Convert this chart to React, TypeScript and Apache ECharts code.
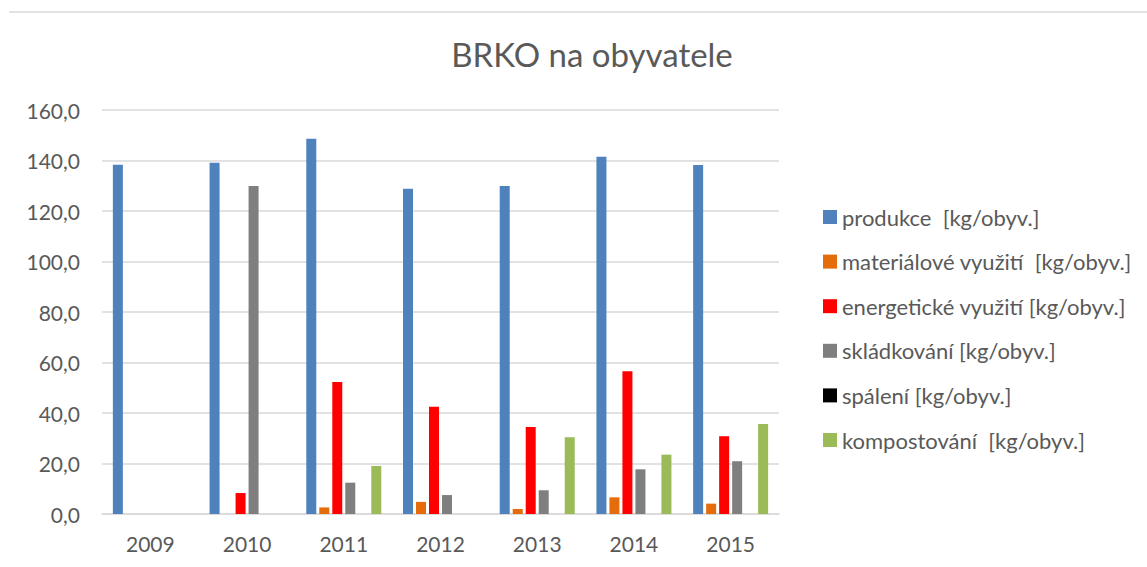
import React, { useEffect, useRef } from "react";
import * as echarts from "echarts";

const years = ["2009", "2010", "2011", "2012", "2013", "2014", "2015"];
const produkce = [138.3, 139.1, 148.6, 128.8, 129.9, 141.5, 138.2];
const materialove = [0, 0, 2.6, 4.8, 2.0, 6.6, 4.1];
const energeticke = [0, 8.3, 52.3, 42.5, 34.5, 56.5, 30.8];
const skladkovani = [0, 129.9, 12.4, 7.5, 9.4, 17.7, 20.9];
const spaleni = [0, 0, 0, 0, 0, 0, 0];
const kompostovani = [0, 0, 19.0, 0, 30.4, 23.5, 35.6];

const seriesNames = [
  "produkce  [kg/obyv.]",
  "materiálové využití  [kg/obyv.]",
  "energetické využití [kg/obyv.]",
  "skládkování [kg/obyv.]",
  "spálení [kg/obyv.]",
  "kompostování  [kg/obyv.]",
];
const seriesData = [produkce, materialove, energeticke, skladkovani, spaleni, kompostovani];
const colors = ["#4F81BD", "#E46C0A", "#FF0000", "#7F7F7F", "#000000", "#9BBB59"];

const FONT = "Lato, 'Open Sans', sans-serif";

export default function App() {
  const ref = useRef<HTMLDivElement>(null);
  useEffect(() => {
    if (!ref.current) return;
    const chart = echarts.init(ref.current, null, { renderer: "svg" });
    chart.setOption({
      animation: false,
      backgroundColor: "#ffffff",
      color: colors,
      title: {
        text: "BRKO na obyvatele",
        left: 587,
        top: 32,
        textAlign: "center",
        textStyle: { fontFamily: FONT, fontSize: 33, fontWeight: "normal", color: "#595959" },
      },
      graphic: [
        {
          type: "line",
          shape: { x1: 9, y1: 12, x2: 1147, y2: 12 },
          style: { stroke: "#d9d9d9", lineWidth: 1.5 },
        },
      ],
      legend: {
        orient: "vertical",
        left: 818,
        top: 201,
        itemWidth: 14,
        itemHeight: 14,
        itemGap: 22.6,
        icon: "rect",
        textStyle: { fontFamily: FONT, fontSize: 22, color: "#595959", lineHeight: 22 },
        data: seriesNames,
      },
      grid: { left: 102, right: 368, top: 110, bottom: 53, containLabel: false },
      xAxis: {
        type: "category",
        data: years,
        axisLine: { lineStyle: { color: "#d9d9d9", width: 1.5 } },
        axisTick: { show: false },
        axisLabel: { fontFamily: FONT, fontSize: 21, color: "#595959", margin: 19 },
      },
      yAxis: {
        type: "value",
        min: 0,
        max: 160,
        interval: 20,
        axisLine: { show: false },
        axisTick: { show: false },
        splitLine: { lineStyle: { color: "#d9d9d9", width: 1.5 } },
        axisLabel: {
          fontFamily: FONT,
          fontSize: 21,
          color: "#595959",
          margin: 22,
          formatter: (v: number) => v.toFixed(1).replace(".", ","),
        },
      },
      series: seriesNames.map((name, i) => ({
        name,
        type: "bar",
        data: seriesData[i],
        barWidth: 10,
        barGap: "30%",
        barCategoryGap: "22%",
        itemStyle: { color: colors[i] },
      })),
    });
    return () => chart.dispose();
  }, []);
  return (
    <div
      ref={ref}
      style={{ position: "absolute", left: 0, top: 0, width: 1147, height: 567 }}
    />
  );
}
